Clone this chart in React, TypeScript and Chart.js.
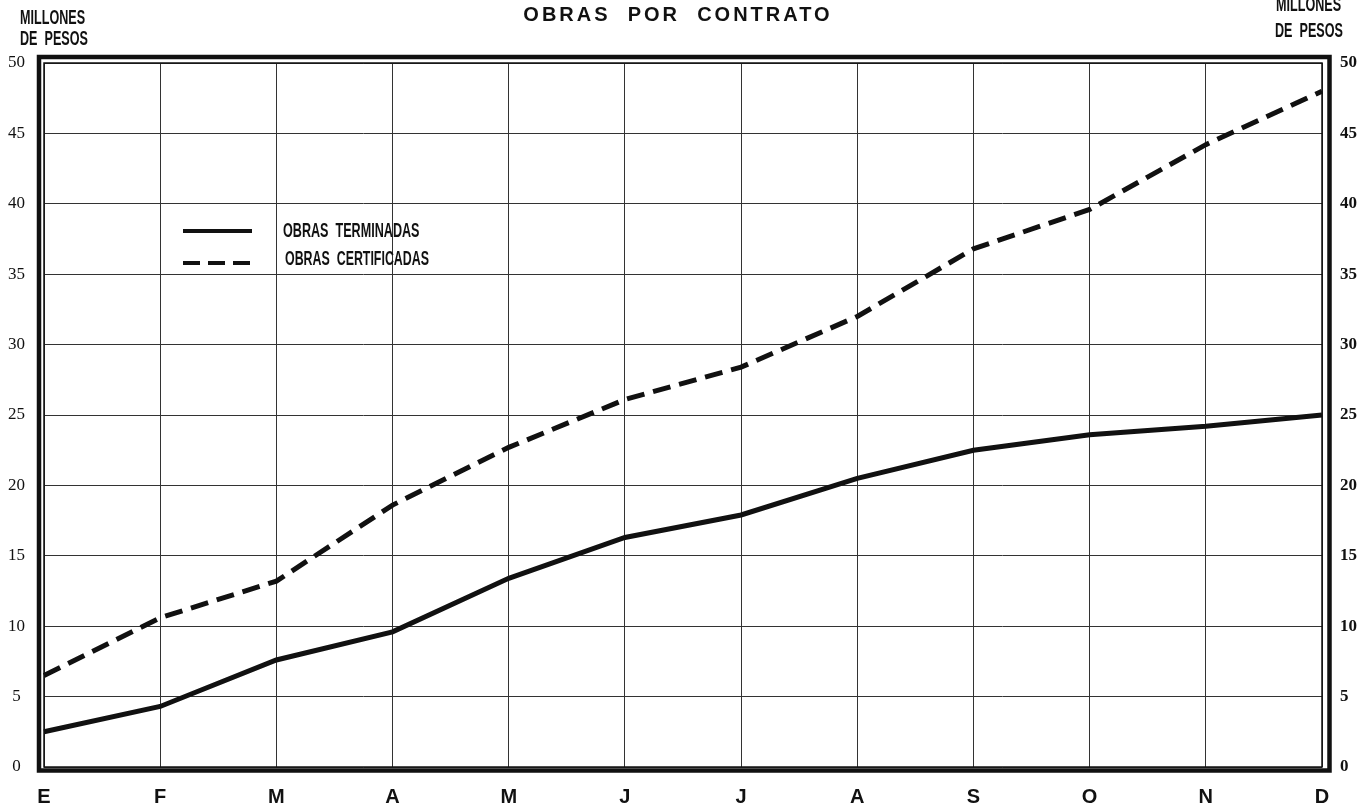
import React, { useEffect, useRef } from "react";
import { Chart, registerables } from "chart.js";

Chart.register(...registerables);

// ---- data ----
const months = ["E", "F", "M", "A", "M", "J", "J", "A", "S", "O", "N", "D"];
const obrasTerminadas = [2.5, 4.3, 7.6, 9.6, 13.4, 16.3, 17.9, 20.5, 22.5, 23.6, 24.2, 25.0];
const obrasCertificadas = [6.5, 10.6, 13.2, 18.6, 22.7, 26.1, 28.4, 32.0, 36.8, 39.6, 44.2, 48.0];
const yMin = 0;
const yMax = 50;
const yStep = 5;
const titleText = "OBRAS  POR  CONTRATO";
const axisTitleLines = ["MILLONES", "DE  PESOS"];
const legendLabels = ["OBRAS  TERMINADAS", "OBRAS  CERTIFICADAS"];

const INK = "#111";

function drawCondensed(
  ctx: CanvasRenderingContext2D,
  text: string,
  x: number,
  y: number,
  font: string,
  sx: number,
  align: CanvasTextAlign
) {
  ctx.save();
  ctx.translate(x, y);
  ctx.scale(sx, 1);
  ctx.font = font;
  ctx.textAlign = align;
  ctx.textBaseline = "middle";
  ctx.fillStyle = INK;
  ctx.fillText(text, 0, 0);
  ctx.restore();
}

const decorPlugin = {
  id: "decor",
  beforeDraw(chart: any) {
    const { ctx, width, height } = chart;
    ctx.save();
    ctx.fillStyle = "#ffffff";
    ctx.fillRect(0, 0, width, height);
    ctx.restore();
  },
  afterDraw(chart: any) {
    const { ctx, chartArea: a } = chart;
    ctx.save();
    // inner frame
    ctx.strokeStyle = INK;
    ctx.lineWidth = 1.5;
    ctx.strokeRect(a.left, a.top, a.right - a.left, a.bottom - a.top);
    // outer thick frame
    ctx.lineWidth = 4.5;
    ctx.strokeRect(a.left - 5, a.top - 6, a.right - a.left + 12.5, a.bottom - a.top + 9.5);

    // title
    ctx.font = "bold 20px 'Liberation Sans', Arial, sans-serif";
    (ctx as any).letterSpacing = "3px";
    ctx.textAlign = "center";
    ctx.textBaseline = "middle";
    ctx.fillStyle = INK;
    ctx.fillText(titleText, 678, 15);
    (ctx as any).letterSpacing = "0px";

    // axis titles (left and right)
    const f = "bold 21px 'Liberation Sans', Arial, sans-serif";
    drawCondensed(ctx, axisTitleLines[0], 20, 18, f, 0.6, "left");
    drawCondensed(ctx, axisTitleLines[1], 20, 39, f, 0.6, "left");
    drawCondensed(ctx, axisTitleLines[0], 1276, 5, f, 0.6, "left");
    drawCondensed(ctx, axisTitleLines[1], 1275, 31, f, 0.6, "left");

    // legend
    const lx = a.left + 139;
    ctx.strokeStyle = INK;
    ctx.lineWidth = 4;
    ctx.lineCap = "butt";
    ctx.beginPath();
    ctx.moveTo(lx, 231);
    ctx.lineTo(lx + 69, 231);
    ctx.stroke();
    ctx.setLineDash([17, 8]);
    ctx.beginPath();
    ctx.moveTo(lx, 263);
    ctx.lineTo(lx + 67, 263);
    ctx.stroke();
    ctx.setLineDash([]);
    const lf = "bold 20px 'Liberation Sans', Arial, sans-serif";
    drawCondensed(ctx, legendLabels[0], 283, 231, lf, 0.63, "left");
    drawCondensed(ctx, legendLabels[1], 285, 259, lf, 0.62, "left");
    ctx.restore();
  },
};

export default function App() {
  const canvasRef = useRef<HTMLCanvasElement | null>(null);

  useEffect(() => {
    const canvas = canvasRef.current;
    if (!canvas) return;
    const chart = new Chart(canvas, {
      type: "line",
      data: {
        labels: months,
        datasets: [
          {
            label: legendLabels[0],
            data: obrasTerminadas,
            borderColor: INK,
            borderWidth: 5,
            pointRadius: 0,
            tension: 0,
            fill: false,
            yAxisID: "y",
          },
          {
            label: legendLabels[1],
            data: obrasCertificadas,
            borderColor: INK,
            borderWidth: 5,
            borderDash: [18, 9],
            borderCapStyle: "butt",
            pointRadius: 0,
            tension: 0,
            fill: false,
            yAxisID: "y",
          },
        ],
      },
      options: {
        responsive: false,
        animation: false,
        devicePixelRatio: 1,
        layout: { padding: { top: 63, left: 0, right: 0, bottom: 0 } },
        plugins: {
          legend: { display: false },
          title: { display: false },
          tooltip: { enabled: false },
        },
        scales: {
          x: {
            type: "category",
            offset: false,
            afterFit: (s: any) => {
              s.height = 42;
            },
            grid: { display: true, color: "#333", lineWidth: 1, drawTicks: false },
            border: { display: false },
            ticks: {
              autoSkip: false,
              maxRotation: 0,
              padding: 18,
              color: INK,
              font: { family: "'Liberation Sans', Arial, sans-serif", size: 20, weight: "bold" },
            },
          },
          y: {
            type: "linear",
            position: "left",
            min: yMin,
            max: yMax,
            afterFit: (s: any) => {
              s.width = 44;
            },
            grid: { display: true, color: "#333", lineWidth: 1, drawTicks: false },
            border: { display: false },
            ticks: {
              stepSize: yStep,
              crossAlign: "center",
              padding: 19,
              color: INK,
              font: { family: "'Liberation Serif', 'Times New Roman', serif", size: 17 },
            },
          },
          y2: {
            type: "linear",
            position: "right",
            min: yMin,
            max: yMax,
            afterFit: (s: any) => {
              s.width = 42;
            },
            grid: { display: false, drawTicks: false },
            border: { display: false },
            ticks: {
              stepSize: yStep,
              crossAlign: "near",
              padding: 18,
              color: INK,
              font: { family: "'Liberation Serif', 'Times New Roman', serif", size: 17, weight: "bold" },
            },
          },
        },
      },
      plugins: [decorPlugin],
    } as any);
    return () => chart.destroy();
  }, []);

  return (
    <div style={{ position: "fixed", left: 0, top: 0, width: 1364, height: 809, background: "#fff" }}>
      <canvas ref={canvasRef} width={1364} height={809} style={{ display: "block", width: 1364, height: 809 }} />
    </div>
  );
}
